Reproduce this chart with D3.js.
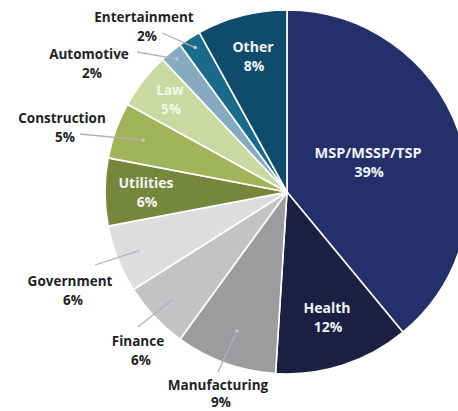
<!DOCTYPE html>
<html>
<head>
<meta charset="utf-8">
<script src="https://cdn.jsdelivr.net/npm/d3@7"></script>
<style>
  body { margin: 0; background: #fff; }
  svg { display: block; }
  text { font-family: "Open Sans", Lato, sans-serif; font-weight: 700; }
</style>
</head>
<body>
<div class="chart"></div>
<script>
// data
var categories = ["MSP/MSSP/TSP", "Health", "Manufacturing", "Finance", "Government",
    "Utilities", "Construction", "Law", "Automotive", "Entertainment", "Other"];
var shares = [39, 12, 9, 6, 6, 6, 5, 5, 2, 2, 8];
var colors = ["#243069", "#1c2043", "#9c9c9e", "#c3c3c5", "#dddddf",
    "#76863b", "#a2b45a", "#cad9a2", "#86aac0", "#1a6a8c", "#0f4c6c"];

// labels drawn inside the slice vs outside with a leader line
var insideLabels = ["MSP/MSSP/TSP", "Health", "Utilities", "Law", "Other"];

// layout only: label anchors (first baseline) and leader line start / dot radius
var inside = {
    "MSP/MSSP/TSP": { x: 368, y: 158, size: 14.5 },
    "Health": { x: 327, y: 313, size: 14 },
    "Utilities": { x: 146, y: 188, size: 14 },
    "Law": { x: 170, y: 95, size: 13.5 },
    "Other": { x: 253, y: 52, size: 14 }
};
var outside = {
    "Entertainment": { x: 144, y: 22, lx: 162, ly: 33, dotR: 0.94 },
    "Automotive": { x: 89, y: 59, lx: 137, ly: 52, dotR: 0.95 },
    "Construction": { x: 62, y: 123, lx: 80, ly: 134, dotR: 0.84 },
    "Government": { x: 70, y: 286, lx: 95, ly: 265, dotR: 0.88 },
    "Finance": { x: 138, y: 346, lx: 138, ly: 327, dotR: 0.85 },
    "Manufacturing": { x: 218, y: 390, lx: 218, ly: 372, dotR: 0.81 }
};

var W = 458, H = 411;
var cx = 287, cy = 192, R = 182;

var svg = d3.select(".chart").append("svg")
    .attr("width", W)
    .attr("height", H);

var g = svg.append("g")
    .attr("transform", "translate(" + cx + "," + cy + ")");

var data = categories.map(function(c, i) {
    return { name: c, value: shares[i], color: colors[i] };
});

var pie = d3.pie()
    .sort(null)
    .value(function(d) { return d.value; });

var arcs = pie(data);

var arc = d3.arc()
    .innerRadius(0)
    .outerRadius(R);

g.selectAll(".slice")
    .data(arcs)
    .enter()
    .append("path")
    .attr("class", "slice")
    .attr("d", arc)
    .attr("fill", function(d) { return d.data.color; })
    .attr("stroke", "#ffffff")
    .attr("stroke-width", 1.6)
    .attr("stroke-linejoin", "round");

function pointAt(d, frac) {
    var a = (d.startAngle + d.endAngle) / 2;
    return [cx + Math.sin(a) * R * frac, cy - Math.cos(a) * R * frac];
}

// inside labels
arcs.filter(function(d) { return insideLabels.indexOf(d.data.name) >= 0; })
    .forEach(function(d) {
        var o = inside[d.data.name];
        var t = svg.append("text")
            .attr("text-anchor", "middle")
            .attr("font-size", o.size)
            .attr("fill", d.data.name === "Law" ? "#f3f7e8" : "#f2f3f6");
        t.append("tspan").attr("x", o.x).attr("y", o.y).text(d.data.name);
        t.append("tspan").attr("x", o.x + 1).attr("y", o.y + 19).text(d.data.value + "%");
    });

// outside labels with leader lines
arcs.filter(function(d) { return outside[d.data.name]; })
    .forEach(function(d) {
        var o = outside[d.data.name];
        var dot = pointAt(d, o.dotR);

        svg.append("line")
            .attr("x1", o.lx).attr("y1", o.ly)
            .attr("x2", dot[0]).attr("y2", dot[1])
            .attr("stroke", "#aeb0b6")
            .attr("stroke-width", 1.3);

        svg.append("circle")
            .attr("cx", dot[0]).attr("cy", dot[1])
            .attr("r", 1.8)
            .attr("fill", "#c4c6cc");

        var t = svg.append("text")
            .attr("text-anchor", "middle")
            .attr("font-size", 13.5)
            .attr("fill", "#1f1f26");
        t.append("tspan").attr("x", o.x).attr("y", o.y).text(d.data.name);
        t.append("tspan").attr("x", o.x + 3).attr("y", o.y + (d.data.name === "Manufacturing" ? 17 : 19)).text(d.data.value + "%");
    });
</script>
</body>
</html>
